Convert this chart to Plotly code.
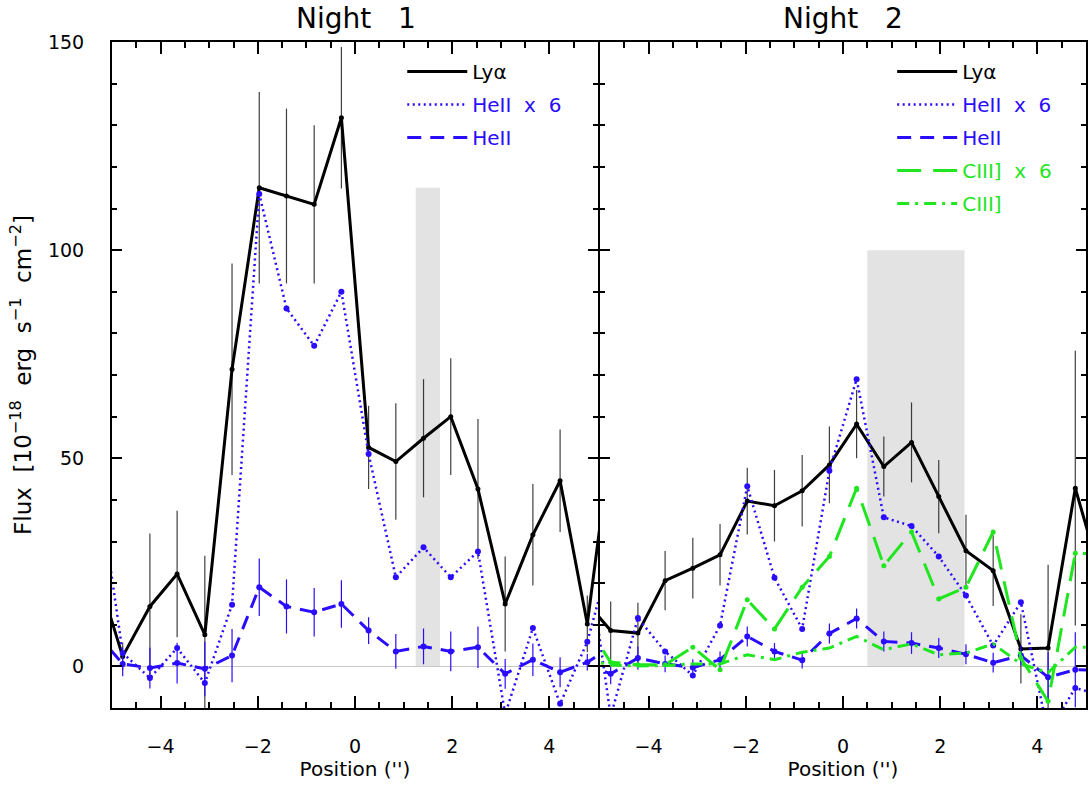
import plotly.graph_objects as go

# ---------------- data ----------------
positions = [-5.34, -4.78, -4.22, -3.66, -3.09, -2.53, -1.97, -1.41, -0.84, -0.28,
             0.28, 0.84, 1.41, 1.97, 2.53, 3.09, 3.66, 4.22, 4.78, 5.34]

# Night 1
lya_n1 = [23.6, 2.4, 14.4, 22.2, 7.6, 71.4, 115.0, 113.0, 111.0, 131.8,
          52.6, 49.2, 54.8, 60.0, 42.6, 15.0, 31.6, 44.6, 10.2, 60.8]
lya_n1_err = [10.0, 3.3, 17.5, 15.2, 19.0, 25.4, 23.0, 21.0, 19.0, 17.0,
              10.0, 14.0, 14.2, 14.0, 16.8, 11.4, 12.2, 12.3, 6.8, 10.0]
heii6_n1 = [49.0, 3.2, -2.8, 4.4, -4.0, 14.8, 113.5, 86.0, 77.0, 90.0,
            51.0, 21.4, 28.6, 21.4, 27.6, -11.5, 9.2, -9.0, 5.9, 30.0]
heii_n1 = [8.2, 0.6, -0.4, 0.8, -0.6, 2.6, 19.0, 14.4, 13.0, 15.0,
           8.6, 3.6, 4.8, 3.6, 4.6, -1.8, 1.6, -1.4, 1.0, 5.1]
heii_n1_err = [3.0, 3.0, 4.9, 4.9, 6.6, 6.4, 6.9, 6.5, 5.8, 5.7,
               3.2, 4.2, 4.3, 4.8, 5.0, 3.6, 3.9, 3.6, 2.0, 3.0]

# Night 2
lya_n2 = [16.2, 8.6, 8.0, 20.6, 23.6, 26.8, 39.7, 38.6, 42.2, 48.4,
          58.2, 48.0, 53.8, 40.8, 27.8, 23.0, 4.2, 4.4, 42.8, 20.0]
lya_n2_err = [7.0, 7.0, 7.3, 7.1, 7.3, 7.4, 8.0, 8.6, 8.6, 9.2,
              8.2, 7.2, 9.6, 8.8, 8.6, 8.5, 8.3, 20.0, 33.0, 10.0]
heii6_n2 = [34.0, -12.0, 11.6, 3.6, -2.2, 9.8, 43.3, 21.3, 9.0, 47.0,
            69.0, 35.8, 33.7, 26.4, 17.0, 5.0, 15.4, -16.0, -5.2, -7.0]
heii_n2 = [0.7, -1.8, 2.0, 0.6, -0.3, 1.6, 7.2, 3.6, 1.5, 7.9,
           11.5, 6.0, 5.6, 4.4, 2.9, 0.9, 2.6, -2.6, -0.8, -1.0]
heii_n2_err = [2.5, 2.5, 2.8, 2.0, 2.0, 2.0, 2.4, 2.0, 2.0, 2.4,
               2.4, 2.4, 2.6, 2.4, 2.4, 2.4, 2.4, 6.0, 9.0, 2.5]
ciii6_n2 = [11.1, 1.0, 0.4, 0.4, 4.6, -0.8, 16.0, 9.0, 19.0, 26.4,
            42.8, 24.2, 32.3, 16.2, 19.0, 32.3, 2.0, -8.4, 27.2, 27.0]
ciii_n2 = [1.9, 0.3, 0.1, 0.2, 0.6, 0.6, 2.8, 1.6, 3.4, 4.4,
           7.2, 4.0, 5.4, 2.8, 3.2, 5.4, 0.6, -1.5, 4.6, 4.6]

# shaded regions: [x0, x1, top]
band_n1 = [1.25, 1.75, 115.0]
band_n2 = [0.5, 2.5, 100.0]

x_range = [-5, 5]
y_range = [-10, 150]

# ---------------- style ----------------
BLACK = "#000000"
BLUE = "#2a0cff"
GREEN = "#1fe61f"
FONT = "DejaVu Sans"
NB = "\u00a0"

fig = go.Figure()


def panel(xa, ya, legend, tag, lya, lya_err, heii6, heii, heii_err, ciii6=None, ciii=None):
    fig.add_trace(go.Scatter(x=positions, y=lya, mode="lines", xaxis=xa, yaxis=ya,
                             line=dict(color=BLACK, width=3), name="Lyα",
                             legend=legend, legendgroup=tag + "a"))
    fig.add_trace(go.Scatter(x=positions, y=lya, mode="markers", xaxis=xa, yaxis=ya,
                             marker=dict(color=BLACK, size=5), showlegend=False,
                             error_y=dict(type="data", array=lya_err, color="rgba(0,0,0,0.75)",
                                          thickness=1.2, width=0)))
    fig.add_trace(go.Scatter(x=positions, y=heii6, mode="lines", xaxis=xa, yaxis=ya,
                             line=dict(color=BLUE, width=2.5, dash="2px,3.5px"),
                             name="<span style='color:%s'>HeII%s x%s 6</span>" % (BLUE, NB, NB),
                             legend=legend, legendgroup=tag + "b"))
    fig.add_trace(go.Scatter(x=positions, y=heii6, mode="markers", xaxis=xa, yaxis=ya,
                             marker=dict(color=BLUE, size=6), showlegend=False))
    fig.add_trace(go.Scatter(x=positions, y=heii, mode="lines", xaxis=xa, yaxis=ya,
                             line=dict(color=BLUE, width=3, dash="14px,9px"),
                             name="<span style='color:%s'>HeII</span>" % BLUE,
                             legend=legend, legendgroup=tag + "c"))
    fig.add_trace(go.Scatter(x=positions, y=heii, mode="markers", xaxis=xa, yaxis=ya,
                             marker=dict(color=BLUE, size=6), showlegend=False,
                             error_y=dict(type="data", array=heii_err, color=BLUE,
                                          thickness=1.2, width=0)))
    if ciii6 is not None:
        fig.add_trace(go.Scatter(x=positions, y=ciii6, mode="lines", xaxis=xa, yaxis=ya,
                                 line=dict(color=GREEN, width=3, dash="24px,12px"),
                                 name="<span style='color:%s'>CIII]%s x%s 6</span>" % (GREEN, NB, NB),
                                 legend=legend, legendgroup=tag + "d"))
        fig.add_trace(go.Scatter(x=positions, y=ciii6, mode="markers", xaxis=xa, yaxis=ya,
                                 marker=dict(color=GREEN, size=5), showlegend=False))
        fig.add_trace(go.Scatter(x=positions, y=ciii, mode="lines", xaxis=xa, yaxis=ya,
                                 line=dict(color=GREEN, width=3, dash="12px,6px,3px,6px"),
                                 name="<span style='color:%s'>CIII]</span>" % GREEN,
                                 legend=legend, legendgroup=tag + "e"))


panel("x", "y", "legend", "n1", lya_n1, lya_n1_err, heii6_n1, heii_n1, heii_n1_err)
panel("x2", "y2", "legend2", "n2", lya_n2, lya_n2_err, heii6_n2, heii_n2, heii_n2_err,
      ciii6_n2, ciii_n2)

for xr, yr, b in (("x", "y", band_n1), ("x2", "y2", band_n2)):
    fig.add_shape(type="rect", xref=xr, yref=yr, x0=b[0], x1=b[1], y0=0, y1=b[2],
                  fillcolor="#e3e3e3", line=dict(width=0), layer="below")

axis_common = dict(showline=True, linecolor=BLACK, linewidth=2, mirror="allticks",
                   ticks="inside", tickcolor=BLACK, showgrid=False,
                   tickfont=dict(family=FONT, size=19, color=BLACK))

xcommon = dict(axis_common, range=x_range, tick0=0, dtick=2, ticklen=12, tickwidth=1.5,
               zeroline=False, ticklabelstandoff=20,
               minor=dict(dtick=0.5, ticklen=6, tickwidth=1.5, ticks="inside", tickcolor=BLACK),
               title=dict(text="Position" + NB + "('')",
                          font=dict(family=FONT, size=20, color=BLACK), standoff=4))
ycommon = dict(axis_common, range=y_range, tick0=0, dtick=50, ticklen=10, tickwidth=1.5,
               zeroline=True, zerolinecolor="#c8c8c8", zerolinewidth=1.2,
               minor=dict(dtick=10, ticklen=5, tickwidth=1.5, ticks="inside", tickcolor=BLACK))

legend_common = dict(y=0.985, xanchor="left", yanchor="top", bgcolor="rgba(0,0,0,0)",
                     font=dict(family=FONT, size=20, color=BLACK), itemwidth=60,
                     traceorder="grouped", tracegroupgap=4)

SP = NB + NB
TSP = NB + NB + NB
fig.update_layout(
    width=1090, height=789,
    margin=dict(l=112, r=2, t=42, b=81),
    paper_bgcolor="white", plot_bgcolor="white",
    font=dict(family=FONT, size=19, color=BLACK),
    xaxis=dict(xcommon, domain=[0, 0.49898], anchor="y"),
    xaxis2=dict(xcommon, domain=[0.50102, 1.0], anchor="y2"),
    yaxis=dict(ycommon, domain=[0, 1], anchor="x", ticklabelstandoff=22,
               title=dict(text="Flux" + SP + "[10<sup>−18</sup>" + SP + "erg" + SP + "s<sup>−1</sup>"
                          + SP + "cm<sup>−2</sup>]",
                          font=dict(family=FONT, size=23, color=BLACK), standoff=10)),
    yaxis2=dict(ycommon, domain=[0, 1], anchor="x2", matches="y", showticklabels=False),
    legend=dict(legend_common, x=0.298),
    legend2=dict(legend_common, x=0.801),
    showlegend=True,
    annotations=[
        dict(text="Night" + TSP + "1", x=0.25, y=1.0, xref="paper", yref="paper",
             xanchor="center", yanchor="bottom", yshift=5, showarrow=False,
             font=dict(family=FONT, size=28, color=BLACK)),
        dict(text="Night" + TSP + "2", x=0.75, y=1.0, xref="paper", yref="paper",
             xanchor="center", yanchor="bottom", yshift=5, showarrow=False,
             font=dict(family=FONT, size=28, color=BLACK)),
    ],
)

fig.write_html("out.html")
